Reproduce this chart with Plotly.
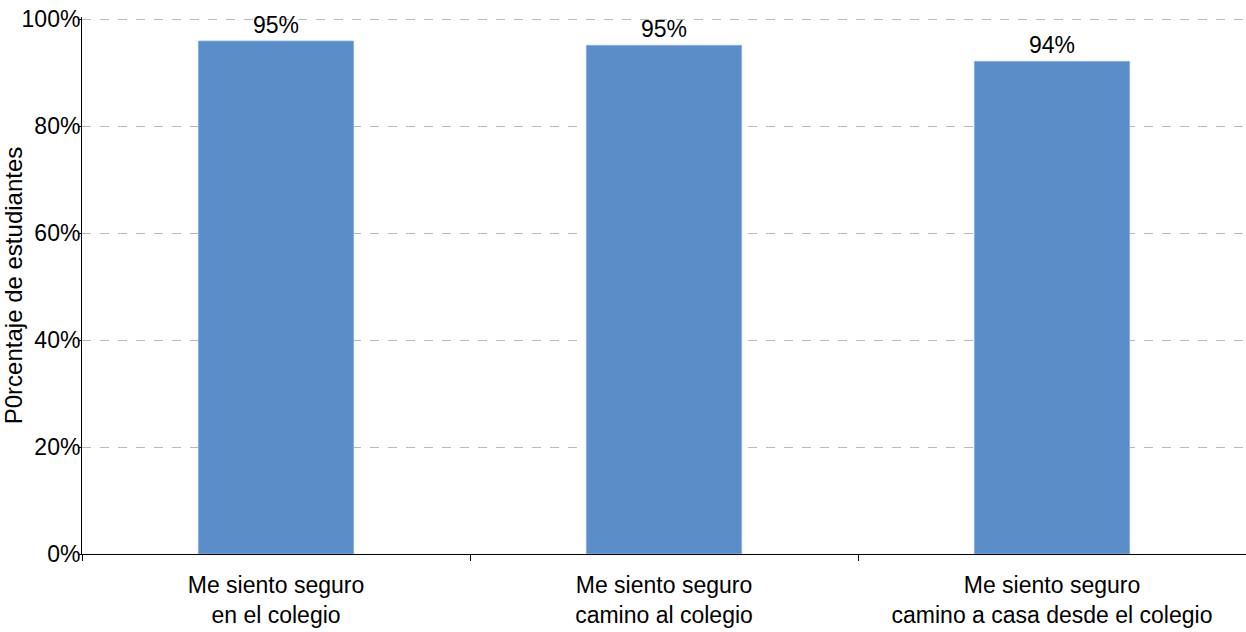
import plotly.graph_objects as go

categories = [
    "Me siento seguro<br>en el colegio",
    "Me siento seguro<br>camino al colegio",
    "Me siento seguro<br>camino a casa desde el colegio",
]
values = [95.9, 95.1, 92.1]
labels = ["95%", "95%", "94%"]
y_ticks = [0, 20, 40, 60, 80, 100]
y_ticktext = ["0%", "20%", "40%", "60%", "80%", "100%"]

fig = go.Figure()

fig.add_trace(
    go.Bar(
        x=categories,
        y=values,
        text=labels,
        textposition="outside",
        textfont=dict(size=23, color="black"),
        cliponaxis=False,
        marker=dict(color="rgb(91, 141, 201)", line=dict(color="rgb(140, 175, 220)", width=1)),
        hoverinfo="skip",
    )
)

fig.update_layout(
    width=1246,
    height=632,
    margin=dict(l=82, r=0, t=17, b=78),
    plot_bgcolor="white",
    paper_bgcolor="white",
    font=dict(family="Liberation Sans, Arial, sans-serif", size=24, color="black"),
    bargap=0.6,
    showlegend=False,
)

fig.update_xaxes(
    automargin=False,
    showline=True,
    linecolor="black",
    linewidth=1,
    ticks="outside",
    tickson="boundaries",
    ticklen=6,
    tickcolor="black",
    tickfont=dict(size=23),
    ticklabelstandoff=10,
    showgrid=False,
)

# a little headroom above 100 so the top gridline is not clipped away
fig.update_yaxes(
    automargin=False,
    range=[0, 100.4],
    tickvals=y_ticks,
    ticktext=y_ticktext,
    showline=True,
    linecolor="black",
    linewidth=1,
    ticks="outside",
    ticklen=2,
    tickcolor="black",
    ticklabelstandoff=-6,
    showgrid=True,
    gridcolor="rgb(185, 185, 185)",
    griddash="dash",
    gridwidth=1,
    zeroline=False,
    tickfont=dict(size=23),
    title=dict(text="P0rcentaje de estudiantes", font=dict(size=24), standoff=6),
)

# remove the default page margin so the figure sits at the window origin
fig.write_html(
    "out.html",
    config={"displayModeBar": False},
    post_script="document.body.style.margin='0';",
)
